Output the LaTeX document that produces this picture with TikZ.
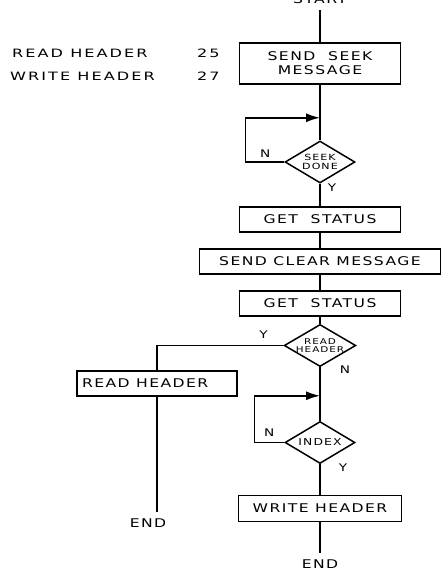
\documentclass[tikz,border=0pt]{standalone}
\usepackage{fontspec}
\newfontfamily\lettering{DejaVu Sans}[FakeStretch=1.3, LetterSpace=12]
\newfontfamily\widelettering{DejaVu Sans}[FakeStretch=1.4, LetterSpace=18]
\usetikzlibrary{shapes.geometric, arrows.meta, positioning}

\begin{document}
\begin{tikzpicture}[node distance=42pt, line width=1.5pt,
    every node/.style={font=\lettering\fontsize{12}{14}\selectfont}]

    % Define styles for the nodes
    \tikzstyle{process} = [
        rectangle, text centered, draw=black,
        minimum width=161pt, minimum height=25pt, inner sep=2pt
    ]
    \tikzstyle{decision} = [
        diamond, text centered, draw=black, align=center,
        minimum width=70pt, minimum height=42pt, aspect=1.7, inner sep=0pt,
        font=\lettering\fontsize{8.5}{8.5}\selectfont
    ]
    \tikzstyle{terminal} = [inner sep=6pt]
    \tikzstyle{entry} = [anchor=west, font=\widelettering\fontsize{11.5}{13}\selectfont]
    \tikzstyle{flowlabel} = [font=\lettering\fontsize{10.5}{10.5}\selectfont]
    \tikzstyle{arrow} = [-{Latex[length=14pt,width=9pt]}]

    % Page
    \fill [white] (0,0) rectangle (441pt,-582pt);
    \useasboundingbox (0,0) rectangle (441pt,-582pt);

    % Nodes
    \node (seekmsg) [process, minimum height=41pt, align=center] at (320pt,-63.5pt) {SEND~~SEEK\\MESSAGE};
    \node (start) [terminal, above of=seekmsg, yshift=22.3pt] {START};
    \node (seekdone) [decision, below of=seekmsg, yshift=-56.5pt] {SEEK\\DONE};
    \node (status1) [process, below of=seekdone, yshift=-15.5pt] {GET~~STATUS};
    \node (clear) [process, minimum width=241pt, below of=status1] {SEND CLEAR MESSAGE};
    \node (status2) [process, below of=clear] {GET~~STATUS};
    \node (readhdr) [decision, minimum width=64pt, below of=status2, font=\lettering\fontsize{8}{8}\selectfont] {READ\\HEADER};
    \node (index) [decision, below of=readhdr, yshift=-55pt, font=\lettering\fontsize{9.5}{10}\selectfont] {INDEX};
    \node (writehdr) [process, minimum width=163pt, minimum height=26pt, below of=index, yshift=-24pt] {WRITE HEADER};
    \node (endright) [terminal, below of=writehdr, yshift=-14pt] {END};
    \node (readbox) [process, minimum width=160pt, below of=readhdr, xshift=-163pt, yshift=4pt] {\makebox[150pt][l]{READ HEADER}};
    \node (endleft) [terminal, below of=readbox, xshift=-9pt, yshift=-98pt] {END};

    % Table of entries
    \node (rdname) [entry] at (8pt,-53pt) {READ HEADER};
    \node (rdpage) [entry] at (193pt,-53pt) {25};
    \node (wrname) [entry] at (6pt,-76pt) {WRITE HEADER};
    \node (wrpage) [entry] at (193pt,-76pt) {27};

    % Lines
    \draw (start) -- (seekmsg);
    \draw (seekmsg) -- (seekdone);
    \draw [arrow] (seekdone.west) -- ++(-39pt,0) |- ([yshift=-33pt]seekmsg.south);
    \draw (seekdone) -- (status1);
    \draw (status1) -- (clear);
    \draw (clear) -- (status2);
    \draw (status2) -- (readhdr);
    \draw (readhdr.west) -| (readbox.north);
    \draw (readbox) -- (readbox.south |- endleft.north);
    \draw (readhdr) -- (index);
    \draw [arrow] (index.west) -- ++(-30pt,0) |- ([yshift=25pt]index.north);
    \draw (index) -- (writehdr);
    \draw (writehdr) -- (endright);

    % Branch labels
    \node (seekno) [flowlabel] at ([xshift=-19pt, yshift=8pt]seekdone.west) {N};
    \node (seekyes) [flowlabel] at ([xshift=12pt, yshift=-4pt]seekdone.south) {Y};
    \node (readyes) [flowlabel] at ([xshift=-20pt, yshift=11pt]readhdr.west) {Y};
    \node (readno) [flowlabel] at ([xshift=25pt, yshift=-2pt]readhdr.south) {N};
    \node (indexno) [flowlabel] at ([xshift=-15pt, yshift=10pt]index.west) {N};
    \node (indexyes) [flowlabel] at ([xshift=23pt, yshift=-3pt]index.south) {Y};

\end{tikzpicture}
\end{document}
